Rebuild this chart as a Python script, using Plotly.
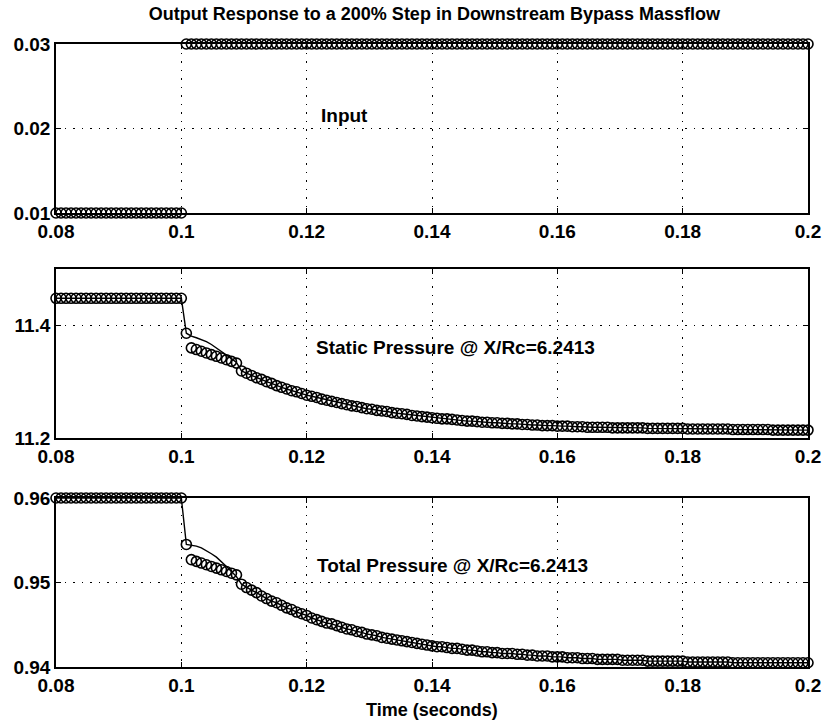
import numpy as np
import plotly.graph_objects as go
from plotly.subplots import make_subplots

# ---- data ----
t_start, t_end, n_samples = 0.08, 0.20, 151
time = np.linspace(t_start, t_end, n_samples)

input_flow = [0.01] * 26 + [0.03] * 125

static_pre = [11.448] * 26
static_circ_trans = [11.386, 11.360, 11.357, 11.354, 11.351, 11.348, 11.345, 11.342, 11.339, 11.336, 11.333]
static_line_trans = [11.386, 11.381, 11.378, 11.375, 11.371, 11.366, 11.360, 11.354, 11.348, 11.341, 11.334]
static_post = [
    11.319, 11.315, 11.311, 11.307, 11.304, 11.300, 11.297, 11.293, 11.290, 11.287,
    11.284, 11.282, 11.279, 11.276, 11.274, 11.272, 11.269, 11.267, 11.265, 11.263,
    11.261, 11.259, 11.257, 11.256, 11.254, 11.252, 11.251, 11.249, 11.248, 11.247,
    11.245, 11.244, 11.243, 11.242, 11.240, 11.239, 11.238, 11.237, 11.236, 11.235,
    11.234, 11.234, 11.233, 11.232, 11.231, 11.230, 11.230, 11.229, 11.228, 11.228,
    11.227, 11.227, 11.226, 11.226, 11.225, 11.225, 11.224, 11.224, 11.223, 11.223,
    11.222, 11.222, 11.222, 11.221, 11.221, 11.221, 11.220, 11.220, 11.220, 11.219,
    11.219,
] + [11.219] * 3 + [11.218] * 7 + [11.217] * 8 + [11.216] * 9 + [11.215] * 8 + [11.214] * 8

total_pre = [0.9600] * 26
total_circ_trans = [0.9545, 0.9527, 0.9525, 0.9523, 0.9521, 0.9519, 0.9517, 0.9515, 0.9513, 0.9511, 0.9509]
total_line_trans = [0.9545, 0.9544, 0.9543, 0.9541, 0.9538, 0.9534, 0.9530, 0.9525, 0.9519, 0.9513, 0.9507]
total_post = [
    0.9498, 0.9494, 0.9491, 0.9488, 0.9484, 0.9481, 0.9478, 0.9476, 0.9473, 0.9470,
    0.9468, 0.9465, 0.9463, 0.9461, 0.9458, 0.9456, 0.9454, 0.9452, 0.9451, 0.9449,
    0.9447, 0.9445, 0.9444, 0.9442, 0.9441, 0.9439, 0.9438, 0.9437, 0.9435, 0.9434,
    0.9433, 0.9432, 0.9431, 0.9430, 0.9429, 0.9428, 0.9427, 0.9426, 0.9425, 0.9424,
    0.9424, 0.9423, 0.9422, 0.9422, 0.9421, 0.9420, 0.9420, 0.9419, 0.9418, 0.9418,
    0.9417, 0.9417, 0.9416, 0.9416, 0.9416, 0.9415, 0.9415, 0.9414, 0.9414, 0.9413,
    0.9413, 0.9413, 0.9412, 0.9412, 0.9412, 0.9411, 0.9411, 0.9411, 0.9410, 0.9410,
    0.9410,
] + [0.9409] * 5 + [0.9408] * 5 + [0.9407] * 8 + [0.9406] * 9 + [0.9405] * 16

static_circles = static_pre + static_circ_trans + static_post
static_line = static_pre + static_line_trans + static_post
total_circles = total_pre + total_circ_trans + total_post
total_line = total_pre + total_line_trans + total_post

x_ticks = [0.08, 0.1, 0.12, 0.14, 0.16, 0.18, 0.2]
x_ticktext = ["0.08", "0.1", "0.12", "0.14", "0.16", "0.18", "0.2"]
y1_ticks, y1_text = [0.01, 0.02, 0.03], ["0.01", "0.02", "0.03"]
y2_ticks, y2_text = [11.2, 11.4], ["11.2", "11.4"]
y3_ticks, y3_text = [0.94, 0.95, 0.96], ["0.94", "0.95", "0.96"]

title_text = "Output Response to a 200% Step in Downstream Bypass Massflow"
labels = ["Input", "Static Pressure @ X/Rc=6.2413", "Total Pressure @ X/Rc=6.2413"]

# ---- figure ----
FONT = "Liberation Sans"
FS = 18
fig = make_subplots(rows=3, cols=1)

marker = dict(symbol="circle-open", size=10, color="black", line=dict(width=1.6, color="black"))

fig.add_trace(go.Scatter(x=time, y=input_flow, mode="markers", marker=marker, cliponaxis=False,
                         showlegend=False), row=1, col=1)
fig.add_trace(go.Scatter(x=time, y=static_line, mode="lines", line=dict(color="black", width=1.4),
                         cliponaxis=False, showlegend=False), row=2, col=1)
fig.add_trace(go.Scatter(x=time, y=static_circles, mode="markers", marker=marker, cliponaxis=False,
                         showlegend=False), row=2, col=1)
fig.add_trace(go.Scatter(x=time, y=total_line, mode="lines", line=dict(color="black", width=1.4),
                         cliponaxis=False, showlegend=False), row=3, col=1)
fig.add_trace(go.Scatter(x=time, y=total_circles, mode="markers", marker=marker, cliponaxis=False,
                         showlegend=False), row=3, col=1)

axis_common = dict(showline=True, linecolor="black", linewidth=1.6, mirror="ticks",
                   ticks="inside", ticklen=5, tickcolor="black", tickwidth=1.4,
                   showgrid=True, gridcolor="black", gridwidth=1.2, griddash="1.5px,7px",
                   zeroline=False, tickfont=dict(family=FONT, size=19, color="black", weight="bold"))

domains = [[0.7287, 1.0], [0.3676, 0.6388], [0.0, 0.2713]]
yt = [(y1_ticks, y1_text, [0.01, 0.03]), (y2_ticks, y2_text, [11.2, 11.5]), (y3_ticks, y3_text, [0.94, 0.96])]
for i in range(3):
    fig.update_xaxes(axis_common, range=[t_start, t_end], tickvals=x_ticks, ticktext=x_ticktext,
                     row=i + 1, col=1)
    fig.update_yaxes(axis_common, range=yt[i][2], tickvals=yt[i][0], ticktext=yt[i][1],
                     domain=domains[i], row=i + 1, col=1)

ann_font = dict(family=FONT, size=19, color="black", weight="bold")
fig.add_annotation(x=0.1219, y=0.0215, xref="x", yref="y", text=labels[0], showarrow=False,
                   xanchor="left", yanchor="middle", font=ann_font)
fig.add_annotation(x=0.1211, y=11.361, xref="x2", yref="y2", text=labels[1], showarrow=False,
                   xanchor="left", yanchor="middle", font=ann_font)
fig.add_annotation(x=0.1214, y=0.952, xref="x3", yref="y3", text=labels[2], showarrow=False,
                   xanchor="left", yanchor="middle", font=ann_font)
fig.add_annotation(x=0.5, y=-0.069, xref="paper", yref="paper", text="Time (seconds)", showarrow=False,
                   xanchor="center", yanchor="middle", font=dict(family=FONT, size=18, color="black", weight="bold"))

fig.update_layout(
    width=833, height=723,
    margin=dict(l=56, r=20, t=44, b=56),
    paper_bgcolor="white", plot_bgcolor="white",
    title=dict(text=title_text, x=0.5215, xanchor="center", y=1 - 14 / 723, yanchor="middle",
               font=dict(family=FONT, size=FS, color="black", weight="bold")),
    showlegend=False,
)

fig.write_html("out.html")
